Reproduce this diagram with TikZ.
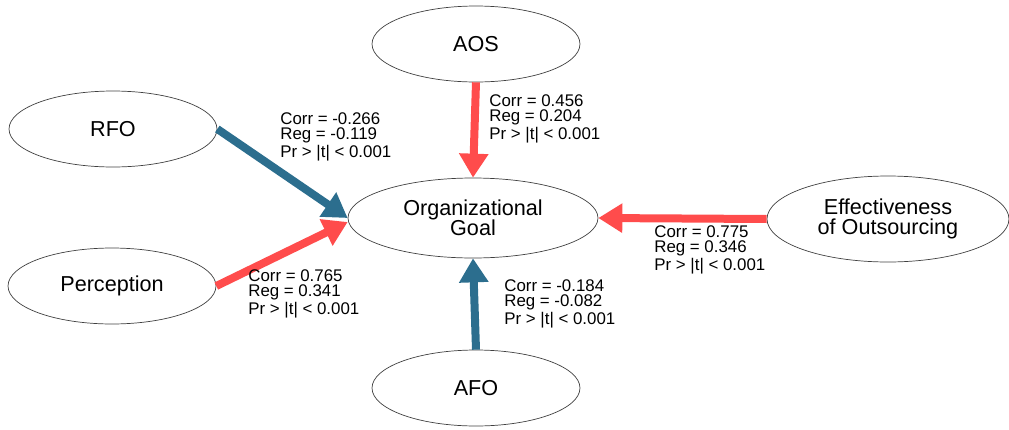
\documentclass[tikz,border=0pt]{standalone}
\usepackage{fontspec}
\setmainfont{Liberation Sans}
\usepackage{xcolor}
\usetikzlibrary{arrows.meta,shapes.geometric}

\definecolor{posred}{RGB}{255,76,76}
\definecolor{negblue}{RGB}{44,110,142}

\begin{document}
\begin{tikzpicture}[
    x=0.02cm, y=-0.02cm,
    factor/.style={draw=black!75, ellipse, inner sep=0pt, minimum width=4.16cm, minimum height=1.52cm, align=center, font=\fontsize{12.3}{11.5}\selectfont},
    stats/.style={anchor=north west, align=left, inner sep=0pt, font=\fontsize{9.6}{8.8}\selectfont},
    posarr/.style={draw=posred, line width=0.16cm, -{Triangle[width=0.56cm,length=0.48cm]}},
    negarr/.style={draw=negblue, line width=0.16cm, -{Triangle[width=0.56cm,length=0.48cm]}},
]
\useasboundingbox (0,0) rectangle (1009,430);

% Factors
\node[factor] (aos) at (476,44) {AOS};
\node[factor] (rfo) at (113,129) {RFO};
\node[factor] (perception) at (112,286) {Perception};
\node[factor, minimum width=4.84cm, minimum height=1.72cm] (effect) at (888,219) {Effectiveness\\of Outsourcing};
\node[factor] (afo) at (476,388) {AFO};

% Target
\node[factor, minimum width=5cm, minimum height=1.6cm] (goal) at (473,218) {Organizational\\Goal};

% Arrows
\draw[negarr] (rfo.east) -- (goal.west);
\draw[posarr] (perception.east) -- ([yshift=-0.08cm]goal.west);
\draw[posarr] (aos.south) -- (goal.north);
\draw[posarr] (effect.west) -- (goal.east);
\draw[negarr] (afo.north) -- (goal.south);

% Statistics
\node[stats] (srfo) at (280,112) {Corr = -0.266\\Reg = -0.119\\Pr > |t| < 0.001};
\node[stats] (saos) at (489,94) {Corr = 0.456\\Reg = 0.204\\Pr > |t| < 0.001};
\node[stats] (seff) at (654,225) {Corr = 0.775\\Reg = 0.346\\Pr > |t| < 0.001};
\node[stats] (sper) at (248,269) {Corr = 0.765\\Reg = 0.341\\Pr > |t| < 0.001};
\node[stats] (safo) at (504,279) {Corr = -0.184\\Reg = -0.082\\Pr > |t| < 0.001};
\end{tikzpicture}
\end{document}
